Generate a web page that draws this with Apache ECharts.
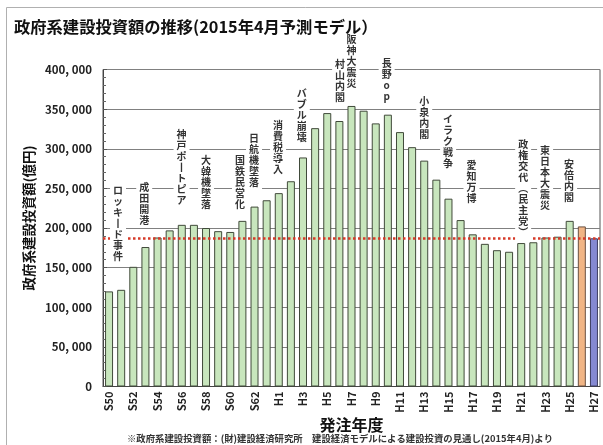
<!DOCTYPE html>
<html>
<head>
<meta charset="utf-8">
<script src="https://cdn.jsdelivr.net/npm/echarts@6/dist/echarts.min.js"></script>
<style>
html,body{margin:0;padding:0;background:#fff;}
#chart{width:603px;height:445px;}
</style>
</head>
<body>
<div id="chart"></div>
<script>
// ---- data ----
const categories = ['S50','S51','S52','S53','S54','S55','S56','S57','S58','S59','S60','S61','S62','S63',
  'H1','H2','H3','H4','H5','H6','H7','H8','H9','H10','H11','H12','H13','H14','H15','H16','H17','H18','H19','H20',
  'H21','H22','H23','H24','H25','H26','H27'];
const investment = [120000,122000,151000,176000,188000,197000,204000,204000,200000,196000,195000,209000,227000,235000,
  244000,259000,289000,326000,345000,335000,354000,348000,332000,343000,321000,302000,285000,261000,237000,210000,192000,180000,172000,170000,
  181000,182000,188000,189000,209000,202000,187000];
const estimateYear = 'H26';
const forecastYear = 'H27';
const referenceLevel = 187000;
const eventLabels = ['ロッキード事件','成田開港','神戸ポートピア','大韓機墜落','国鉄民営化','日航機墜落','消費税導入',
  'バブル崩壊','村山内閣','阪神大震災','長野op','小泉内閣','イラク戦争','愛知万博','政権交代（民主党）','東日本大震災','安倍内閣'];
const titleText = '政府系建設投資額の推移(2015年4月予測モデル）';
const yAxisName = '政府系建設投資額(億円)';
const xAxisName = '発注年度';
const noteText = '※政府系建設投資額：(財)建設経済研究所　建設経済モデルによる建設投資の見通し(2015年4月)より';

// ---- layout of event labels: [category position, value at top of text] ----
const eventLayout = [[0.74,253000],[2.9,257000],[5.98,324000],[8.0,291000],[10.8,291000],[11.96,318600],[13.94,335000],
  [15.9,375400],[19.06,412000],[20.0,444500],[22.9,413200],[26.0,365300],[27.97,342600],[29.9,284500],[34.16,311000],[35.97,303500],[37.95,285800]];

const FONT = '"Noto Sans CJK JP", "Noto Sans", sans-serif';
const chart = echarts.init(document.getElementById('chart'), null, {renderer:'canvas'});

const barData = investment.map((v, i) => {
  const c = categories[i];
  if (c === estimateYear) return {value: v, itemStyle: {color: '#f1b585', borderColor: '#6a5040'}};
  if (c === forecastYear) return {value: v, itemStyle: {color: '#8589d2', borderColor: '#3c3c60'}};
  return v;
});

chart.setOption({
  animation: false,
  backgroundColor: '#fff',
  title: {
    text: titleText, left: 9, top: 14, z: 300, zlevel: 0,
    textStyle: {fontFamily: FONT, fontSize: 16.3, fontWeight: 'bold', color: '#111'}
  },
  grid: {left: 103, right: 3, top: 69.5, bottom: 58.5, containLabel: false, outerBoundsMode: 'none',
    show: true, borderColor: '#555', borderWidth: 1, backgroundColor: 'transparent'},
  xAxis: {
    type: 'category', data: categories,
    name: xAxisName, nameLocation: 'middle', nameGap: 30, nameMoveOverlap: false,
    nameTextStyle: {fontFamily: FONT, fontSize: 16, fontWeight: 'bold', color: '#111'},
    axisLine: {show: true, lineStyle: {color: '#444', width: 1}},
    axisTick: {show: false},
    axisLabel: {interval: 1, rotate: 90, margin: 5, fontFamily: FONT, fontSize: 11, fontWeight: 'bold', color: '#222'},
    splitLine: {show: false}
  },
  yAxis: {
    type: 'value', min: 0, max: 400000, interval: 50000,
    name: yAxisName, nameLocation: 'middle', nameRotate: 90, nameGap: 67, nameMoveOverlap: false,
    nameTextStyle: {fontFamily: FONT, fontSize: 13.5, fontWeight: 'bold', color: '#111', padding: [0,0,0,20]},
    axisLine: {show: true, lineStyle: {color: '#444', width: 1}},
    axisTick: {show: true, inside: true, length: 4, lineStyle: {color: '#555'}},
    minorTick: {show: true, splitNumber: 5, length: 3, lineStyle: {color: '#666'}},
    axisLabel: {margin: 11, fontFamily: FONT, fontSize: 11.5, fontWeight: 'bold', color: '#222',
      formatter: v => v === 0 ? '0' : v.toLocaleString('en-US').replace(/,/g, ', ')},
    splitLine: {show: true, lineStyle: {color: '#808080', width: 1}}
  },
  series: [{
    type: 'bar', data: barData, barCategoryGap: '34%',
    itemStyle: {color: '#c8e6bd', borderColor: '#404a3a', borderWidth: 1},
    markLine: {
      silent: true, symbol: 'none', label: {show: false},
      lineStyle: {color: '#d63a28', type: 'dotted', width: 2.5},
      data: [{yAxis: referenceLevel}]
    }
  }]
});

function toVertical(s) {
  return s.split('').map(ch => ch === 'ー' ? '丨' : ch === '（' ? '︵' : ch === '）' ? '︶' : ch);
}
const x0 = chart.convertToPixel({xAxisIndex: 0}, 0);
const x1 = chart.convertToPixel({xAxisIndex: 0}, 1);
const step = x1 - x0;
const LH = 11;
const graphics = [{
  type: 'rect', silent: true, z: -10,
  shape: {x: 6.5, y: 7.5, width: 620, height: 460},
  style: {fill: 'none', stroke: '#b0b0b0', lineWidth: 1}
}];
eventLabels.forEach((t, i) => {
  const [pos, topVal] = eventLayout[i];
  const px = x0 + pos * step;
  const py = chart.convertToPixel({yAxisIndex: 0}, topVal);
  const chars = toVertical(t);
  const h = chars.length * LH;
  graphics.push({
    type: 'rect', silent: true, z: 99,
    shape: {x: px - 8, y: Math.max(py - 3, 34), width: 16, height: h + 4 - Math.max(0, 34 - (py - 3))},
    style: {fill: '#fff', stroke: null}
  });
  graphics.push({
    type: 'text', silent: true, z: 100, x: px, y: py - 1,
    style: {
      text: chars.join('\n'), font: 'bold 10px ' + FONT, lineHeight: LH,
      align: 'center', verticalAlign: 'top', fill: '#333'
    }
  });
});
graphics.push({
  type: 'text', silent: true, x: 340, y: 438.5,
  style: {text: noteText, font: 'bold 9.4px ' + FONT, fill: '#333', align: 'center', verticalAlign: 'middle'}
});
chart.setOption({graphic: graphics});
</script>
</body>
</html>
